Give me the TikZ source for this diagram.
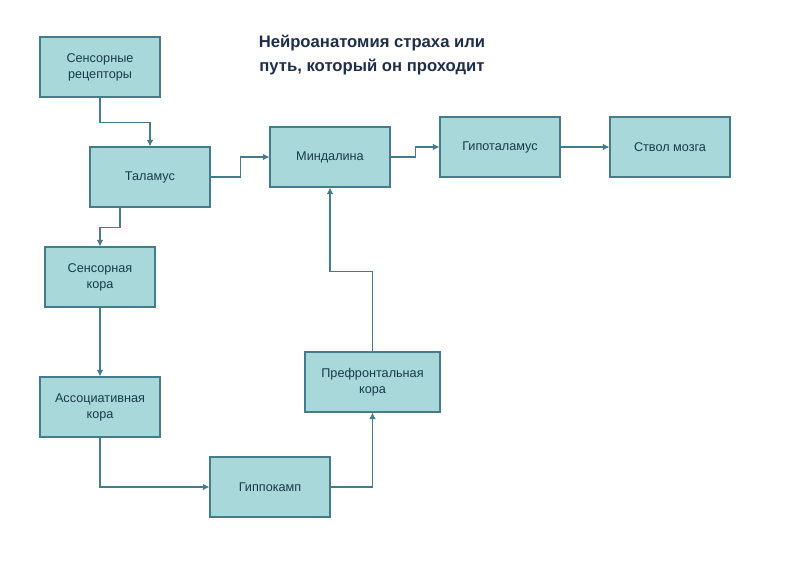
\documentclass[tikz,border=0pt]{standalone}
\usepackage{fontspec}
\setmainfont{Liberation Sans}
\usetikzlibrary{arrows.meta}
\definecolor{boxfill}{HTML}{A8D8DA}
\definecolor{boxline}{HTML}{457B8A}
\definecolor{txt}{HTML}{1A3A4A}
\definecolor{ttl}{HTML}{1F2F4A}
\begin{document}
\begin{tikzpicture}[x=0.75pt,y=-0.75pt,
  box/.style={draw=boxline,fill=boxfill,line width=0.8pt,text=txt,font=\fontsize{9.5}{12}\selectfont,align=center,inner sep=2pt,minimum width=#1*0.75pt,minimum height=45pt},
  box/.default=120,
  arr/.style={draw=boxline,line width=0.8pt,-{Latex[length=5pt,width=5pt]}}]
\useasboundingbox[fill=white] (0,0) rectangle (791,577);
\node[text=ttl,font=\bfseries\fontsize{12.5}{18}\selectfont,align=center] (title) at (372,55) {Нейроанатомия страха или\\путь, который он проходит};
\node[box] (rec) at (100,67) {Сенсорные\\рецепторы};
\node[box] (thal) at (150,177) {Таламус};
\node[box] (amy) at (330,157) {Миндалина};
\node[box] (hyp) at (500,147) {Гипоталамус};
\node[box] (stem) at (670,147) {Ствол мозга};
\node[box=110] (sens) at (100,277) {Сенсорная\\кора};
\node[box] (assoc) at (100,407) {Ассоциативная\\кора};
\node[box] (gip) at (270,487) {Гиппокамп};
\node[box=135] (pref) at (372.5,382) {Префронтальная\\кора};
\draw[arr] (rec.south) -- ++(0,25) -| (thal.north);
\draw[arr] (thal.east) -- ++(30,0) |- (amy.west);
\draw[arr] ([xshift=-22.5pt]thal.south) -- ++(0,20) -| (sens.north);
\draw[arr] (sens.south) -- (assoc.north);
\draw[arr] (assoc.south) |- (gip.west);
\draw[arr] (gip.east) -| (pref.south);
\draw[arr] (pref.north) -- ++(0,-80) -| (amy.south);
\draw[arr] (amy.east) -- ++(25,0) |- (hyp.west);
\draw[arr] (hyp.east) -- (stem.west);
\end{tikzpicture}
\end{document}
